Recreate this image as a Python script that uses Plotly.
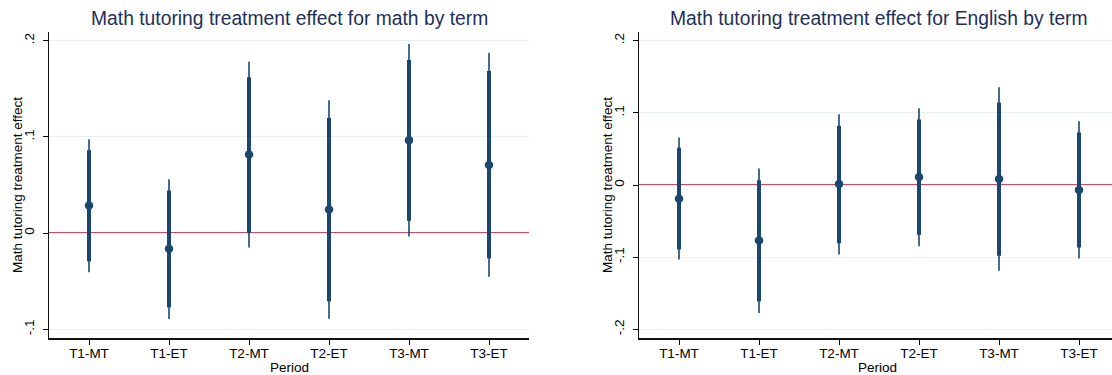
import plotly.graph_objects as go

# Term labels on the x axis
periods = ["T1-MT", "T1-ET", "T2-MT", "T2-ET", "T3-MT", "T3-ET"]

# Treatment effect on math scores: point estimate, 90% CI, 95% CI
math_est = [0.0287, -0.0163, 0.0817, 0.0246, 0.0965, 0.0709]
math_lo90 = [-0.0294, -0.0772, 0.0000, -0.0709, 0.0128, -0.0263]
math_hi90 = [0.0862, 0.0443, 0.1620, 0.1197, 0.1800, 0.1685]
math_lo95 = [-0.0408, -0.0893, -0.0149, -0.0889, -0.0035, -0.0453]
math_hi95 = [0.0976, 0.0560, 0.1780, 0.1380, 0.1965, 0.1875]

# Treatment effect on English scores: point estimate, 90% CI, 95% CI
eng_est = [-0.0189, -0.0770, 0.0014, 0.0110, 0.0083, -0.0069]
eng_lo90 = [-0.0894, -0.1613, -0.0806, -0.0691, -0.0980, -0.0866]
eng_hi90 = [0.0516, 0.0065, 0.0820, 0.0908, 0.1143, 0.0728]
eng_lo95 = [-0.1032, -0.1774, -0.0963, -0.0848, -0.1189, -0.1018]
eng_hi95 = [0.0659, 0.0230, 0.0980, 0.1065, 0.1355, 0.0885]

# Y-axis ticks
y_tickvals = [-0.2, -0.1, 0, 0.1, 0.2]
y_ticktext = ["-.2", "-.1", "0", ".1", ".2"]

W, H = 1112, 375
NAVY = "#1a476f"
RED = "#b8113a"
GRID = "#e8eff1"
TITLE_C = "#1e2f5a"
FONT = "Liberation Sans, Arial, sans-serif"

x_pos = list(range(1, len(periods) + 1))


def px_x(p):
    return p / W


def px_y(p):
    return (H - p) / H


fig = go.Figure()


def add_panel(est, lo90, hi90, lo95, hi95, xa, ya):
    # 95% interval: thin line
    fig.add_trace(go.Scatter(
        x=x_pos, y=est, mode="markers", xaxis=xa, yaxis=ya,
        marker=dict(size=1, color="rgba(0,0,0,0)"),
        error_y=dict(type="data", symmetric=False,
                     array=[h - e for h, e in zip(hi95, est)],
                     arrayminus=[e - l for e, l in zip(est, lo95)],
                     thickness=1.6, width=0, color=NAVY),
        showlegend=False, hoverinfo="skip"))
    # 90% interval: thick line, with point estimate
    fig.add_trace(go.Scatter(
        x=x_pos, y=est, mode="markers", xaxis=xa, yaxis=ya,
        marker=dict(size=8.5, color=NAVY),
        error_y=dict(type="data", symmetric=False,
                     array=[h - e for h, e in zip(hi90, est)],
                     arrayminus=[e - l for e, l in zip(est, lo90)],
                     thickness=4, width=0, color=NAVY),
        showlegend=False))


add_panel(math_est, math_lo90, math_hi90, math_lo95, math_hi95, "x", "y")
add_panel(eng_est, eng_lo90, eng_hi90, eng_lo95, eng_hi95, "x2", "y2")

y_dom = [px_y(338), px_y(32)]

xaxis_common = dict(
    tickmode="array", tickvals=x_pos, ticktext=periods,
    ticks="outside", ticklen=5, tickwidth=1, tickcolor="#000",
    showline=True, linecolor="#111", linewidth=1.5,
    showgrid=False, zeroline=False,
    tickfont=dict(family=FONT, size=13.5, color="#000"),
    ticklabelstandoff=-3,
    fixedrange=True,
)
yaxis_common = dict(
    tickmode="array", tickvals=y_tickvals, ticktext=y_ticktext,
    tickangle=-90, ticks="outside", ticklen=5, tickwidth=1, tickcolor="#000",
    showline=True, linecolor="#111", linewidth=1.2,
    showgrid=True, gridcolor=GRID, gridwidth=1.3,
    zeroline=False,
    tickfont=dict(family=FONT, size=13.5, color="#000"),
    ticklabelstandoff=4,
    domain=y_dom, fixedrange=True,
)

fig.update_layout(
    width=W, height=H,
    margin=dict(l=0, r=0, t=0, b=0),
    paper_bgcolor="white", plot_bgcolor="white",
    font=dict(family=FONT),
    xaxis=dict(xaxis_common, domain=[px_x(49), px_x(529)], range=[0.5, 6.5], anchor="y"),
    yaxis=dict(yaxis_common, range=[-0.109, 0.209], anchor="x"),
    xaxis2=dict(xaxis_common, domain=[px_x(639), 1.0], range=[0.5, 6.4125], anchor="y2"),
    yaxis2=dict(yaxis_common, range=[-0.212, 0.212], anchor="x2"),
)

# Reference line at zero in each panel
for xr, yr in (("x domain", "y"), ("x2 domain", "y2")):
    fig.add_shape(type="line", xref=xr, yref=yr, x0=0, x1=1, y0=0, y1=0,
                  line=dict(color=RED, width=1.7), layer="below")

# Panel titles, axis titles
annos = [
    dict(text="Math tutoring treatment effect for math by term", x=px_x(289), y=px_y(19),
         font=dict(size=19.3, color=TITLE_C)),
    dict(text="Math tutoring treatment effect for English by term", x=px_x(879), y=px_y(19),
         font=dict(size=19.3, color=TITLE_C)),
    dict(text="Period", x=px_x(289), y=px_y(367), font=dict(size=13.5, color="#000")),
    dict(text="Period", x=px_x(877), y=px_y(367), font=dict(size=13.5, color="#000")),
    dict(text="Math tutoring treatment effect", x=px_x(18), y=px_y(185), textangle=-90,
         font=dict(size=13.5, color="#000")),
    dict(text="Math tutoring treatment effect", x=px_x(608), y=px_y(185), textangle=-90,
         font=dict(size=13.5, color="#000")),
]
for a in annos:
    fig.add_annotation(xref="paper", yref="paper", showarrow=False,
                       xanchor="center", yanchor="middle",
                       font_family=FONT, **{k: v for k, v in a.items()})

fig.write_html("out.html")
